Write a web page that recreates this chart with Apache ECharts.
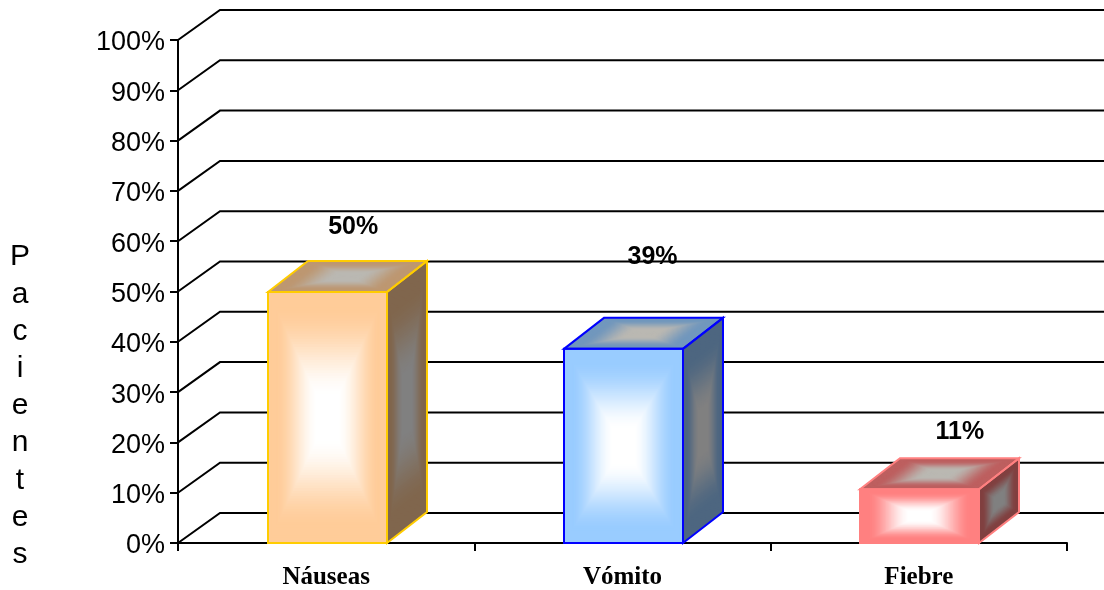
<!DOCTYPE html>
<html><head><meta charset="utf-8">
<style>html,body{margin:0;padding:0;background:#fff}#c{width:1104px;height:590px}</style>
<script src="https://cdn.jsdelivr.net/npm/echarts@6/dist/echarts.min.js"></script>
</head><body><div id="c"></div>
<script>
const categories = ['Náuseas', 'Vómito', 'Fiebre'];
const barValues = [49.9, 38.6, 10.7];
const labelTexts = ['50%', '39%', '11%'];
const labelValues = [62.9, 56.8, 22.1];
const gridTicks = [0, 10, 20, 30, 40, 50, 60, 70, 80, 90, 100];
const axisTitle = 'Pacientes';

const edgeColors = [[255,204,153],[153,204,255],[255,128,128]];
const borderColors = ['#FFCC00','#0000FF','#FF8080'];
const WALL_DX = 42, WALL_DY = -30, DX = 40, DY = -31, BAR_W = 119, STEPS = 48;
const LABEL_SHIFT = [27, 30, 41];

function mix(a, b, t) {
  return 'rgb(' + a.map((v, i) => Math.round(v + (b[i] - v) * t)).join(',') + ')';
}
function gradFace(pts, edge, center, hold, plateau) {
  const cx = pts.reduce((s, p) => s + p[0], 0) / pts.length;
  const cy = pts.reduce((s, p) => s + p[1], 0) / pts.length;
  const out = [];
  for (let i = 0; i < STEPS; i++) {
    const u = i / (STEPS - 1);
    const k = 1 - i / STEPS;
    const t = Math.min(1, Math.max(0, (u - hold) / (plateau - hold)));
    out.push({
      type: 'polygon',
      silent: true,
      shape: { points: pts.map(p => [cx + (p[0] - cx) * k, cy + (p[1] - cy) * k]) },
      style: { fill: mix(edge, center, t * t * (3 - 2 * t)), stroke: null }
    });
  }
  return out;
}
function outline(pts, color) {
  return { type: 'polygon', silent: true, shape: { points: pts },
    style: { fill: 'none', stroke: color, lineWidth: 2 } };
}
function renderWall(params, api) {
  const c = api.coord([0, api.value(0)]);
  const p = [c[0] - api.size([1, 0])[0] / 2, c[1]];
  const w = api.getWidth();
  return { type: 'polyline', silent: true,
    shape: { points: [p, [p[0] + WALL_DX, p[1] + WALL_DY], [w + 5, p[1] + WALL_DY]] },
    style: { stroke: '#000', lineWidth: 2, fill: 'none' } };
}
function renderBar(params, api) {
  const i = params.dataIndex;
  const top = api.coord([i, api.value(1)]);
  const base = api.coord([i, 0]);
  const x0 = Math.round(top[0] - BAR_W / 2) + 1, x1 = x0 + BAR_W;
  const y0 = top[1], y1 = base[1];
  const e = edgeColors[i];
  const dark = e.map(v => v * 0.5), mid = e.map(v => v * 0.74);
  const front = [[x0,y0],[x1,y0],[x1,y1],[x0,y1]];
  const side = [[x1,y0],[x1+DX,y0+DY],[x1+DX,y1+DY],[x1,y1]];
  const roof = [[x0,y0],[x0+DX,y0+DY],[x1+DX,y0+DY],[x1,y0]];
  const b = borderColors[i];
  return { type: 'group', children: [
    ...gradFace(side, dark, [128,128,128], 0.15, 0.8),
    ...gradFace(roof, mid, [186,184,178], 0.15, 0.8),
    ...gradFace(front, e, [255,255,255], 0.12, 0.85),
    outline(side, b), outline(roof, b), outline(front, b)
  ]};
}
function renderLabel(params, api) {
  const i = params.dataIndex;
  const p = api.coord([i, api.value(1)]);
  return { type: 'text', silent: true, x: p[0] + LABEL_SHIFT[i], y: p[1],
    style: { text: labelTexts[i], fill: '#000', align: 'center', verticalAlign: 'middle',
      font: 'bold 25px "Liberation Sans"' } };
}

const chart = echarts.init(document.getElementById('c'), null, { renderer: 'canvas' });
chart.setOption({
  animation: false,
  backgroundColor: '#fff',
  grid: { left: 178, right: 37, top: 40, bottom: 45, containLabel: false },
  graphic: [{
    type: 'text', x: 20, y: 238.5, silent: true,
    style: { text: axisTitle.split('').join('\n'), fill: '#000', align: 'center', verticalAlign: 'top',
      lineHeight: 37.2, font: '30px "Liberation Sans"' }
  }],
  xAxis: {
    type: 'category', data: categories, boundaryGap: true,
    axisLine: { show: true, lineStyle: { color: '#000', width: 2 } },
    axisTick: { show: true, length: 8, alignWithLabel: false, lineStyle: { color: '#000', width: 2 } },
    axisLabel: { color: '#000', fontFamily: 'Liberation Serif', fontWeight: 'bold', fontSize: 25, margin: 22 }
  },
  yAxis: {
    type: 'value', min: 0, max: 100, interval: 10,
    axisLine: { show: true, lineStyle: { color: '#000', width: 2 } },
    axisTick: { show: true, length: 8, lineStyle: { color: '#000', width: 2 } },
    splitLine: { show: false },
    axisLabel: { color: '#000', fontFamily: 'Liberation Sans', fontSize: 27, margin: 13, verticalAlign: 'top', lineHeight: 6, formatter: '{value}%' }
  },
  series: [
    { type: 'custom', name: 'wall', coordinateSystem: 'cartesian2d', z: 1,
      data: gridTicks.map(v => [v]), encode: { y: 0 }, renderItem: renderWall },
    { type: 'custom', name: 'Pacientes', coordinateSystem: 'cartesian2d', z: 2,
      data: barValues.map((v, i) => [i, v]), encode: { x: 0, y: 1 }, renderItem: renderBar },
    { type: 'custom', name: 'labels', coordinateSystem: 'cartesian2d', z: 3,
      data: labelValues.map((v, i) => [i, v]), encode: { x: 0, y: 1 }, renderItem: renderLabel }
  ]
});
</script></body></html>
